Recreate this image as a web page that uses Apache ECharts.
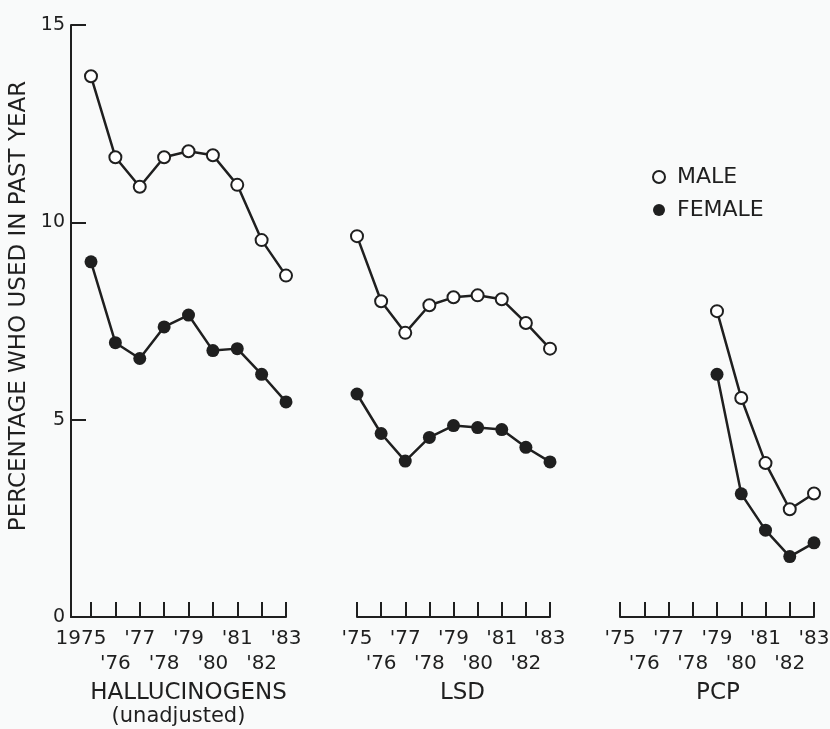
<!DOCTYPE html>
<html>
<head>
<meta charset="utf-8">
<script src="https://cdn.jsdelivr.net/npm/echarts@6/dist/echarts.min.js"></script>
<style>
  html, body { margin: 0; padding: 0; background: #f9fafa; }
  #chart { width: 830px; height: 729px; }
</style>
</head>
<body>
<div id="chart"></div>
<script>
// ---- data ----
const years = [1975, 1976, 1977, 1978, 1979, 1980, 1981, 1982, 1983];
const hallLabels = ['1975', "'76", "'77", "'78", "'79", "'80", "'81", "'82", "'83"];
const shortLabels = ["'75", "'76", "'77", "'78", "'79", "'80", "'81", "'82", "'83"];
const yTicks = [0, 5, 10, 15];

const hallMale   = [13.7, 11.65, 10.9, 11.65, 11.8, 11.7, 10.95, 9.55, 8.65];
const hallFemale = [9.0, 6.95, 6.55, 7.35, 7.65, 6.75, 6.8, 6.15, 5.45];
const lsdMale    = [9.65, 8.0, 7.2, 7.9, 8.1, 8.15, 8.05, 7.45, 6.8];
const lsdFemale  = [5.65, 4.65, 3.95, 4.55, 4.85, 4.8, 4.75, 4.3, 3.93];
const pcpMale    = [null, null, null, null, 7.75, 5.55, 3.9, 2.73, 3.13];
const pcpFemale  = [null, null, null, null, 6.15, 3.12, 2.2, 1.53, 1.88];

const panelTitles = ['HALLUCINOGENS', 'LSD', 'PCP'];
const panelSubtitles = ['(unadjusted)', '', ''];
const yTitle = 'PERCENTAGE WHO USED IN PAST YEAR';
const seriesNames = ['MALE', 'FEMALE'];

// ---- helpers ----
const INK = '#1f1f1f';
const BG = '#f9fafa';
const FONT = 'DejaVu Sans';
function pairs(arr) {
  return years.map((y, i) => [y, arr[i]]).filter(p => p[1] !== null);
}
// row: 1 = odd years (upper row), 0 = even years (lower row)
function xLabelFormatter(labels, parity) {
  return function (v) {
    const i = years.indexOf(Math.round(v));
    if (i < 0) return '';
    if (years[i] % 2 !== parity) return '';
    const txt = labels[i];
    if (txt.length === 4) return '{wide|' + txt + '}';
    return txt;
  };
}
const labelBase = { color: INK, fontFamily: FONT, fontSize: 20, lineHeight: 25,
  showMinLabel: true, showMaxLabel: true, hideOverlap: false };

function panelX(gridIndex, labels, title, sub, titleShift) {
  return {
    type: 'value', gridIndex: gridIndex, position: 'bottom', offset: 0,
    min: years[0], max: years[years.length - 1], interval: 1,
    axisLine: { show: true, lineStyle: { color: INK, width: 2 } },
    axisTick: { show: true, inside: true, length: 15, lineStyle: { color: INK, width: 2 } },
    splitLine: { show: false },
    axisLabel: Object.assign({}, labelBase, {
      margin: 9,
      formatter: xLabelFormatter(labels, 1),
      rich: { wide: { fontFamily: FONT, fontSize: 20, color: INK, padding: [0, 20, 0, 0] } }
    }),
    name: sub ? '{t|' + title + '}\n{s|' + sub + '}' : '{t|' + title + '}',
    nameLocation: 'middle', nameGap: 64,
    nameTextStyle: {
      rich: {
        t: { fontFamily: FONT, fontSize: 23, color: INK, lineHeight: 24, padding: [0, 0, 0, titleShift] },
        s: { fontFamily: FONT, fontSize: 21, color: INK, lineHeight: 24, padding: [0, 20, 0, 0] }
      }
    }
  };
}
function panelXLower(gridIndex, labels) {
  return {
    type: 'value', gridIndex: gridIndex, position: 'bottom', offset: 0,
    min: years[0], max: years[years.length - 1], interval: 1,
    axisLine: { show: false }, axisTick: { show: false }, splitLine: { show: false },
    axisLabel: Object.assign({}, labelBase, { margin: 34, formatter: xLabelFormatter(labels, 0) })
  };
}
function hiddenY(gridIndex) {
  return { type: 'value', gridIndex: gridIndex, min: 0, max: 15, show: false, splitLine: { show: false } };
}
function lineSeries(name, gridIndex, xIndex, arr, hollow) {
  return {
    type: 'line', name: name, xAxisIndex: xIndex, yAxisIndex: gridIndex,
    data: pairs(arr),
    symbol: hollow ? 'emptyCircle' : 'circle',
    symbolSize: hollow ? 12 : 13,
    lineStyle: { color: INK, width: 2.5 },
    itemStyle: hollow ? { color: INK, borderColor: INK, borderWidth: 2.2 } : { color: INK },
    z: hollow ? 3 : 2,
    animation: false
  };
}
function gridAt(left, width) {
  return { left: left, width: width, top: 25, height: 592, containLabel: false, outerBoundsMode: 'none' };
}

const chart = echarts.init(document.getElementById('chart'), null, { renderer: 'canvas' });
chart.setOption({
  backgroundColor: BG,
  animation: false,
  textStyle: { fontFamily: FONT },
  grid: [gridAt(71, 20), gridAt(91, 195), gridAt(357, 193), gridAt(620, 194)],
  xAxis: [
    { type: 'value', gridIndex: 0, min: 0, max: 1,
      axisLine: { show: true, lineStyle: { color: INK, width: 2 } },
      axisTick: { show: false }, axisLabel: { show: false }, splitLine: { show: false } },
    panelX(1, hallLabels, panelTitles[0], panelSubtitles[0], 0),   // 1
    panelX(2, shortLabels, panelTitles[1], panelSubtitles[1], 18), // 2
    panelX(3, shortLabels, panelTitles[2], panelSubtitles[2], 2),  // 3
    panelXLower(1, hallLabels),   // 4
    panelXLower(2, shortLabels),  // 5
    panelXLower(3, shortLabels)   // 6
  ],
  yAxis: [
    { type: 'value', gridIndex: 0, min: yTicks[0], max: yTicks[yTicks.length - 1], interval: yTicks[1] - yTicks[0],
      axisLine: { show: true, lineStyle: { color: INK, width: 2 } },
      axisTick: { show: true, inside: true, length: 15, lineStyle: { color: INK, width: 2 } },
      splitLine: { show: false },
      axisLabel: { color: INK, fontFamily: FONT, fontSize: 19, margin: 6, showMinLabel: true, showMaxLabel: true },
      name: yTitle, nameLocation: 'middle', nameRotate: 90, nameGap: 40,
      nameTextStyle: { color: INK, fontFamily: FONT, fontSize: 23, padding: [0, 0, 0, 30] } },
    hiddenY(1), hiddenY(2), hiddenY(3)
  ],
  legend: {
    orient: 'vertical', left: 652, top: 166, itemGap: 11, padding: 0,
    itemWidth: 12, itemHeight: 12,
    textStyle: { color: INK, fontFamily: FONT, fontSize: 22, lineHeight: 22, padding: [0, 0, 0, 7] },
    data: [
      { name: seriesNames[0], icon: 'circle', itemStyle: { color: BG, borderColor: INK, borderWidth: 2 } },
      { name: seriesNames[1], icon: 'circle', itemStyle: { color: INK } }
    ]
  },
  series: [
    lineSeries(seriesNames[0], 1, 1, hallMale, true),
    lineSeries(seriesNames[1], 1, 1, hallFemale, false),
    lineSeries(seriesNames[0], 2, 2, lsdMale, true),
    lineSeries(seriesNames[1], 2, 2, lsdFemale, false),
    lineSeries(seriesNames[0], 3, 3, pcpMale, true),
    lineSeries(seriesNames[1], 3, 3, pcpFemale, false)
  ]
});
</script>
</body>
</html>
